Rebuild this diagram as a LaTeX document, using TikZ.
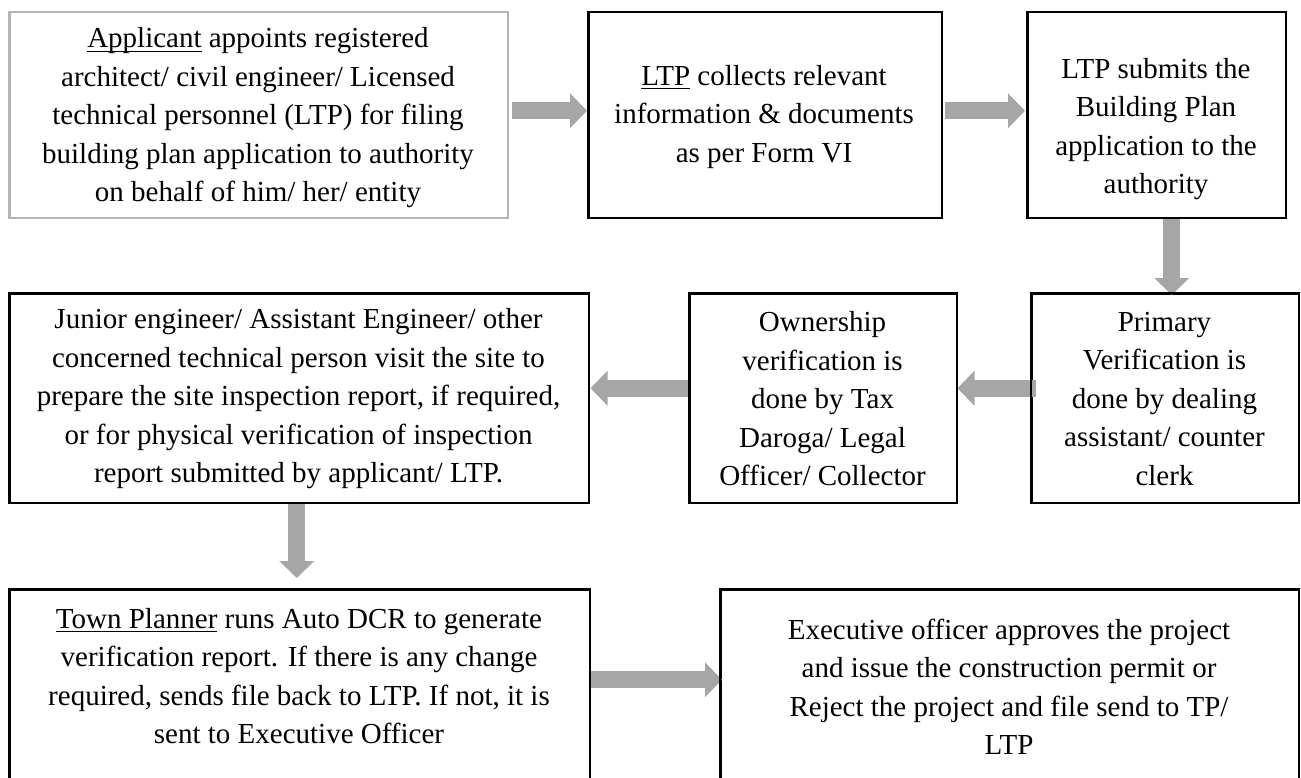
\documentclass[tikz,border=0pt]{standalone}
\usepackage{fontspec}
\setmainfont{Liberation Serif}
\newcommand\ulx[1]{\setbox0=\hbox{#1}\rlap{\rule[-4pt]{\wd0}{1.3pt}}\box0\relax}
\usetikzlibrary{arrows.meta,calc}
\definecolor{agray}{HTML}{A6A6A6}
\definecolor{bgray}{HTML}{B4B4B4}
\begin{document}
\begin{tikzpicture}[x=1pt,y=-1pt,
  box/.style={draw=black, line width=1.5pt, anchor=north west, inner sep=0pt},
  txt/.style={align=center, font=\fontsize{29}{38.5}\selectfont, inner sep=0pt},
  barrow/.style={draw=agray, line width=17pt, -{Triangle[length=17pt 0 0,width=34pt 0 0]}}]
\useasboundingbox (0,0) rectangle (1301,778);
\begin{scope}
\clip (0,0) rectangle (1301,778);
% boxes (empty shapes; texts are separate)
\node[box, draw=bgray, minimum width=498pt, minimum height=205pt] (b1) at (9,12) {};
\node[box, minimum width=353pt, minimum height=205pt] (b2) at (588,12) {};
\node[box, minimum width=258pt, minimum height=205pt] (b3) at (1027,12) {};
\node[box, minimum width=579pt, minimum height=209pt] (jun) at (9,293) {};
\node[box, minimum width=267pt, minimum height=209pt] (own) at (689,293) {};
\node[box, minimum width=267pt, minimum height=209pt] (prim) at (1031,293) {};
\node[box, minimum width=580pt, minimum height=201pt] (town) at (9,589) {};
\node[box, minimum width=578pt, minimum height=201pt] (exec) at (720,589) {};
\end{scope}
% connectors
\draw[barrow] ($(b1.east)+(3,-4.5)$) -- ($(b2.west)+(-1,-4.5)$);
\draw[barrow] ($(b2.east)+(2,-4.5)$) -- ($(b3.west)+(-2,-4.5)$);
\draw[barrow] ($(b3.south)+(15,0)$) -- ($(prim.north)+(6.5,2)$);
\draw[barrow] ($(prim.west)+(5,-10)$) -- ($(own.east)+(0,-10)$);
\draw[barrow] ($(own.west)+(0,-10)$) -- ($(jun.east)+(1,-10)$);
\draw[barrow] ($(jun.south)+(-2.5,0)$) -- ($(town.north)+(-3,-11)$);
\draw[barrow] ($(town.east)+(0,-10.5)$) -- ($(exec.west)+(2,-10.5)$);
% redraw borders over the arrow ends
\begin{scope}
\clip (0,0) rectangle (1301,778);
\draw[bgray, line width=1.5pt] (b1.north west) rectangle (b1.south east);
\foreach \n in {b2,b3,jun,own,prim,town,exec}
  \draw[black, line width=1.5pt] (\n.north west) rectangle (\n.south east);
\end{scope}
% texts
\node[txt] (t1) at (258,118) {\ulx{Applicant} appoints registered\\architect/ civil engineer/ Licensed\\technical personnel (LTP) for filing\\building plan application to authority\\on behalf of him/ her/ entity};
\node[txt] (t2) at (764,117) {\ulx{LTP} collects relevant\\information \& documents\\as per Form VI};
\node[txt] (t3) at (1156,129) {LTP submits the\\Building Plan\\application to the\\authority};
\node[txt] (t4) at (1164.5,399) {Primary\\Verification is\\done by dealing\\assistant/ counter\\clerk};
\node[txt] (t5) at (822.5,399) {Ownership\\verification is\\done by Tax\\Daroga/ Legal\\Officer/ Collector};
\node[txt] (t6) at (298.5,399) {Junior engineer/ Assistant Engineer/ other\\concerned technical person visit the site to\\prepare the site inspection report, if required,\\or for physical verification of inspection\\report submitted by applicant/ LTP.};
\node[txt] (t7) at (299,676) {\ulx{Town Planner} runs Auto DCR to generate\\verification report. If there is any change\\required, sends file back to LTP. If not, it is\\sent to Executive Officer};
\node[txt] (t8) at (1009,687) {Executive officer approves the project\\and issue the construction permit or\\Reject the project and file send to TP/\\LTP};
\end{tikzpicture}
\end{document}
